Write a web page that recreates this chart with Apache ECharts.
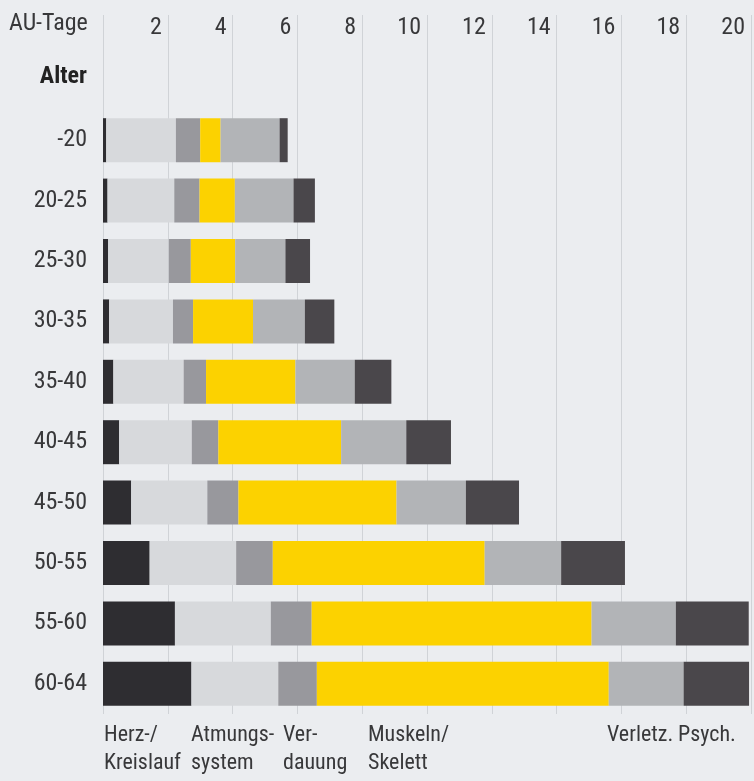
<!DOCTYPE html>
<html>
<head>
<meta charset="utf-8">
<script src="https://cdn.jsdelivr.net/npm/echarts@6/dist/echarts.min.js"></script>
<style>
html,body{margin:0;padding:0;background:#ebedf0;}
#chart{width:754px;height:781px;}
</style>
</head>
<body>
<div id="chart"></div>
<script>
var categories = ['-20','20-25','25-30','30-35','35-40','40-45','45-50','50-55','55-60','60-64'];
var herz   = [0.10,0.14,0.16,0.19,0.32,0.50,0.87,1.44,2.22,2.73];
var atmung = [2.15,2.06,1.87,1.97,2.17,2.24,2.35,2.67,2.96,2.68];
var verd   = [0.75,0.78,0.68,0.62,0.69,0.82,0.96,1.13,1.26,1.19];
var musk   = [0.63,1.09,1.37,1.85,2.76,3.79,4.88,6.54,8.64,9.01];
var verl   = [1.82,1.81,1.55,1.60,1.83,2.01,2.14,2.36,2.60,2.31];
var psych  = [0.25,0.66,0.76,0.91,1.13,1.38,1.64,1.97,2.25,2.02];
var seriesNames = ['Herz-/Kreislauf','Atmungssystem','Verdauung','Muskeln/Skelett','Verletz.','Psych.'];
var legendTexts = ['Herz-/\nKreislauf','Atmungs-\nsystem','Ver-\ndauung','Muskeln/\nSkelett','Verletz.','Psych.'];
var axisTitle = 'AU-Tage';
var catTitle = 'Alter';

var FONT = "'Roboto Condensed','Open Sans Condensed',sans-serif";
var FS = 24;
var FSL = 22;
var TXT = '#38383a';
var colors = ['#2e2d31','#d7d9dc','#98989d','#fcd200','#b2b4b7','#4a474b'];
var values = [herz, atmung, verd, musk, verl, psych];
var legendX = [104, 191, 283, 368, 607, 678];

var chart = echarts.init(document.getElementById('chart'), null, {renderer:'canvas'});
var gridColor = '#d0d3d7';

var series = values.map(function(v,i){
  return {
    name: seriesNames[i], type:'bar', stack:'total',
    xAxisIndex:1, yAxisIndex:1,
    barWidth:44, data:v,
    itemStyle:{color:colors[i]},
    emphasis:{disabled:true},
    silent:true
  };
});

var graphics = [
  {type:'text', left:9, top:12, style:{text:axisTitle, font:FS+'px '+FONT, fill:TXT}},
  {type:'text', right:754-87, top:65, style:{text:catTitle, font:'bold '+FS+'px '+FONT, fill:'#222'}}
];
legendTexts.forEach(function(t,i){
  graphics.push({type:'text', left:legendX[i], top:721,
    style:{text:t, font:FSL+'px '+FONT, fill:TXT, lineHeight:28}});
});

chart.setOption({
  backgroundColor:'#ebedf0',
  animation:false,
  textStyle:{fontFamily:FONT},
  grid:[
    {left:103, right:3, top:15, height:95},
    {left:103, right:3, top:110, bottom:67}
  ],
  xAxis:[
    {gridIndex:0, type:'value', min:0, max:20, interval:2, position:'top',
     axisLine:{show:false}, axisTick:{show:false},
     splitLine:{show:true, lineStyle:{color:gridColor, width:1}},
     axisLabel:{inside:true, margin:1, align:'right', verticalAlign:'top', padding:[0,6,0,0],
       fontSize:FS, fontFamily:FONT, color:TXT,
       formatter:function(v){return v===0?'':String(v);}}},
    {gridIndex:1, type:'value', min:0, max:20, interval:2,
     axisLine:{show:false}, axisTick:{show:false}, axisLabel:{show:false},
     splitLine:{show:true, lineStyle:{color:gridColor, width:1}}}
  ],
  yAxis:[
    {gridIndex:0, type:'value', min:0, max:1, show:false},
    {gridIndex:1, type:'category', data:categories, inverse:true,
     axisLine:{show:false}, axisTick:{show:false},
     axisLabel:{margin:16, fontSize:FS, fontFamily:FONT, color:TXT}}
  ],
  series: series,
  graphic: graphics
});
</script>
</body>
</html>
